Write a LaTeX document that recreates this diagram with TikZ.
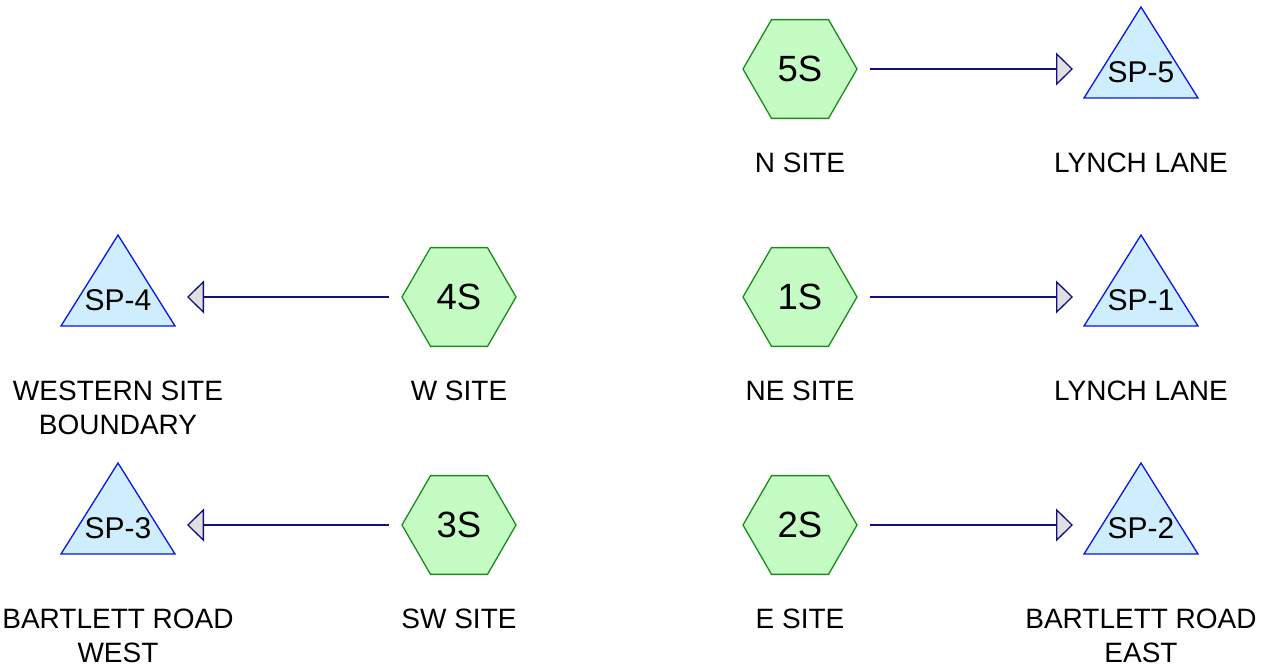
\documentclass[tikz,border=0pt]{standalone}
\usepackage{fontspec}
\setmainfont{Liberation Sans}
\usetikzlibrary{shapes.geometric,arrows.meta}
\definecolor{hexfill}{HTML}{C4FCC4}
\definecolor{hexdraw}{HTML}{1A8C1A}
\definecolor{trifill}{HTML}{CFEEFD}
\definecolor{tridraw}{HTML}{0A14E6}
\definecolor{linkcol}{HTML}{101080}
\definecolor{headfill}{HTML}{E0E0E0}
\tikzset{
  hexnode/.style={regular polygon, regular polygon sides=6, minimum size=114pt, inner sep=0pt,
    fill=hexfill, draw=hexdraw, line width=1.3pt, font=\fontsize{36.5}{40}\selectfont},
  spnode/.style={inner sep=0pt, font=\fontsize{30}{34}\selectfont},
  lbl/.style={align=center, inner sep=0pt, font=\fontsize{28}{34}\selectfont},
  tri/.style={fill=trifill, draw=tridraw, line width=1.3pt, line join=miter},
  link/.style={draw=linkcol, line width=1.3pt, shorten <=12pt,
    -{Triangle[length=17pt,width=33pt,fill=headfill,line width=1.3pt]}}
}
\begin{document}
\begin{tikzpicture}[x=1pt,y=-1pt]
\useasboundingbox (0,0) rectangle (1275,666);
% triangles
\foreach \cx/\cy in {1141/69,1141/297,1141/525,118/297,118/525}{
  \draw[tri] (\cx,\cy-62) -- (\cx+57,\cy+29) -- (\cx-57,\cy+29) -- cycle;
}
% hexagons
\node[hexnode] (h5) at (800,69) {5S};
\node[hexnode] (h1) at (800,297) {1S};
\node[hexnode] (h2) at (800,525) {2S};
\node[hexnode] (h4) at (459,297) {4S};
\node[hexnode] (h3) at (459,525) {3S};
% SP labels
\node[spnode] (sp5) at (1141,72) {SP-5};
\node[spnode] (sp1) at (1141,300) {SP-1};
\node[spnode] (sp2) at (1141,528) {SP-2};
\node[spnode] (sp4) at (118,300) {SP-4};
\node[spnode] (sp3) at (118,528) {SP-3};
% text labels
\node[lbl] (l5) at (800,163) {N SITE};
\node[lbl] (ls5) at (1141,163) {LYNCH LANE};
\node[lbl] (l1) at (800,391) {NE SITE};
\node[lbl] (ls1) at (1141,391) {LYNCH LANE};
\node[lbl] (l4) at (459,391) {W SITE};
\node[lbl] (ls4) at (118,408) {WESTERN SITE\\BOUNDARY};
\node[lbl] (l2) at (800,619) {E SITE};
\node[lbl] (ls2) at (1141,636) {BARTLETT ROAD\\EAST};
\node[lbl] (l3) at (459,619) {SW SITE};
\node[lbl] (ls3) at (118,636) {BARTLETT ROAD\\WEST};
% connectors
\draw[link, shorten >=68pt] (h5.east) -- (h5.east -| sp5.center);
\draw[link, shorten >=68pt] (h1.east) -- (h1.east -| sp1.center);
\draw[link, shorten >=68pt] (h2.east) -- (h2.east -| sp2.center);
\draw[link, shorten >=69pt] (h4.west) -- (h4.west -| sp4.center);
\draw[link, shorten >=69pt] (h3.west) -- (h3.west -| sp3.center);
\end{tikzpicture}
\end{document}
